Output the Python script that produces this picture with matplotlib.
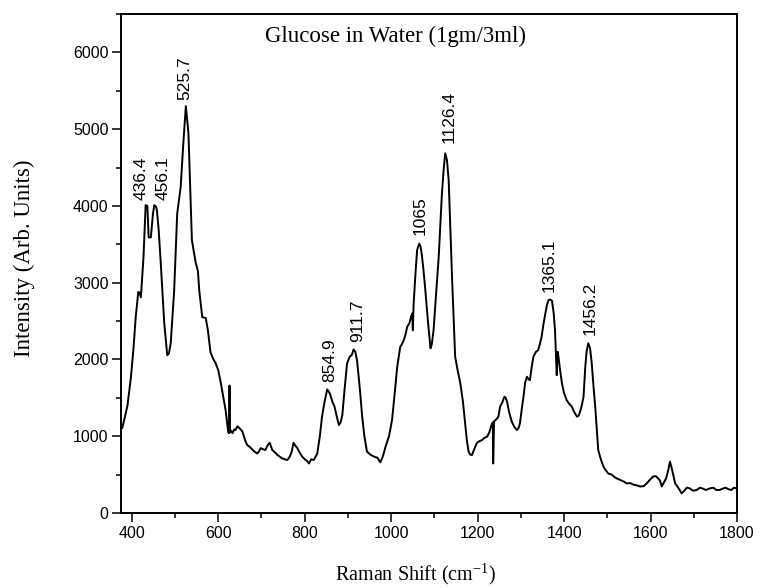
import matplotlib
matplotlib.use("Agg")
import matplotlib.pyplot as plt
import numpy as np
from matplotlib.ticker import MultipleLocator

# traced spectrum: Raman shift (cm-1) and intensity (arb. units)
shift = [378, 384, 390, 398, 404, 409, 415, 418, 421, 427, 432, 436, 439, 444, 449,
         452, 456, 458, 462, 467, 475, 482, 486, 490, 498, 505, 513, 519, 525, 531,
         539, 548, 553, 556, 563, 571, 576, 582, 588, 594, 600, 606, 612, 617, 621,
         623, 625, 626, 627, 630, 633, 637, 640, 644, 650, 656, 662, 667, 673, 680,
         686, 690, 694, 698, 704, 709, 714, 719, 725, 731, 737, 743, 748, 754, 760,
         766, 770, 774, 778, 783, 788, 794, 800, 805, 810, 815, 821, 829, 835, 840,
         846, 852, 858, 864, 869, 874, 879, 883, 887, 892, 898, 904, 909, 913, 917,
         921, 927, 933, 938, 944, 952, 960, 968, 975, 981, 987, 995, 1002, 1008, 1014,
         1021, 1025, 1029, 1033, 1037, 1042, 1046, 1049, 1050, 1052, 1056, 1060, 1065, 1068, 1071,
         1075, 1079, 1085, 1091, 1094, 1098, 1104, 1110, 1117, 1121, 1125, 1129, 1133, 1137, 1141,
         1148, 1154, 1160, 1166, 1171, 1175, 1179, 1183, 1187, 1192, 1198, 1204, 1210, 1216, 1222,
         1227, 1232, 1235, 1236, 1238, 1241, 1245, 1248, 1252, 1257, 1262, 1265, 1268, 1273, 1279,
         1285, 1291, 1295, 1298, 1302, 1306, 1310, 1314, 1318, 1321, 1325, 1329, 1335, 1340, 1344,
         1348, 1352, 1356, 1360, 1364, 1368, 1372, 1376, 1379, 1381, 1383, 1385, 1387, 1391, 1395,
         1400, 1406, 1412, 1418, 1422, 1425, 1430, 1434, 1437, 1441, 1445, 1449, 1452, 1456, 1460,
         1464, 1468, 1472, 1476, 1479, 1485, 1491, 1496, 1502, 1510, 1516, 1522, 1530, 1538, 1545,
         1553, 1560, 1568, 1576, 1584, 1591, 1598, 1606, 1612, 1618, 1622, 1626, 1631, 1636, 1641,
         1645, 1650, 1657, 1664, 1672, 1678, 1684, 1691, 1698, 1707, 1714, 1720, 1728, 1737, 1745,
         1752, 1760, 1768, 1774, 1780, 1787, 1793, 1799]
intensity = [1110, 1250, 1400, 1770, 2150, 2550, 2880, 2870, 2810, 3330, 4010, 4000, 3590, 3590, 3900,
             4010, 3990, 3945, 3700, 3255, 2475, 2055, 2080, 2210, 2900, 3900, 4245, 4800, 5300, 4950,
             3555, 3255, 3150, 2900, 2550, 2540, 2380, 2095, 2010, 1950, 1860, 1690, 1500, 1340, 1150,
             1055, 1040, 1660, 1050, 1070, 1040, 1090, 1080, 1130, 1100, 1060, 950, 885, 860, 820,
             790, 775, 800, 845, 830, 820, 880, 915, 820, 790, 755, 730, 710, 700, 690,
             740, 800, 915, 880, 845, 790, 735, 700, 680, 645, 700, 690, 775, 1000, 1255,
             1450, 1610, 1560, 1450, 1385, 1260, 1145, 1180, 1275, 1600, 1950, 2035, 2060, 2130, 2100,
             1990, 1650, 1255, 1000, 800, 760, 735, 720, 660, 740, 865, 1000, 1210, 1550, 1905,
             2165, 2200, 2250, 2320, 2425, 2470, 2555, 2600, 2380, 2730, 3100, 3425, 3510, 3470, 3360,
             3150, 2905, 2500, 2145, 2200, 2380, 2850, 3340, 4120, 4450, 4685, 4600, 4335, 3700, 3035,
             2035, 1850, 1690, 1450, 1170, 950, 800, 760, 755, 830, 910, 935, 950, 980, 995,
             1050, 1145, 1180, 645, 1190, 1210, 1230, 1255, 1385, 1440, 1515, 1500, 1450, 1310, 1190,
             1120, 1080, 1110, 1170, 1350, 1515, 1700, 1775, 1740, 1730, 1900, 2035, 2100, 2120, 2200,
             2295, 2450, 2580, 2700, 2775, 2780, 2765, 2600, 2380, 2100, 1795, 2100, 2035, 1850, 1690,
             1560, 1470, 1420, 1385, 1330, 1300, 1255, 1270, 1320, 1400, 1515, 1900, 2100, 2210, 2150,
             1950, 1650, 1385, 1050, 820, 700, 605, 560, 515, 500, 470, 450, 430, 410, 385,
             390, 370, 360, 345, 350, 385, 430, 475, 480, 450, 420, 345, 400, 450, 560,
             670, 560, 385, 330, 255, 290, 330, 320, 290, 300, 330, 320, 300, 320, 330,
             300, 300, 320, 330, 310, 300, 330, 320]

peak_labels = ["436.4", "456.1", "525.7", "854.9", "911.7", "1065", "1126.4", "1365.1", "1456.2"]
label_x = [421, 472, 522, 857, 922, 1068, 1133, 1366, 1460]
label_y = [4075, 4075, 5377, 1706, 2226, 3620, 4817, 2877, 2318]

plt.rcParams['font.family'] = ['Liberation Sans', 'DejaVu Sans']
plt.rcParams['mathtext.fontset'] = 'stix'

fig = plt.figure(figsize=(7.6, 5.88), dpi=100)
ax = fig.add_axes([121 / 760, 75 / 588, 616 / 760, 499 / 588])

ax.plot(shift, intensity, color='black', lw=1.4)

for txt, lx, ly in zip(peak_labels, label_x, label_y):
    ax.text(lx, ly, txt, rotation=90, ha='center', va='bottom', fontsize=12.5)

ax.text(0.445, 0.955, "Glucose in Water (1gm/3ml)", transform=ax.transAxes,
        ha='center', va='center', fontsize=16.5, family='Liberation Serif')

ax.set_xlim(375, 1800)
ax.set_ylim(0, 6500)
ax.xaxis.set_major_locator(MultipleLocator(200))
ax.xaxis.set_minor_locator(MultipleLocator(100))
ax.yaxis.set_major_locator(MultipleLocator(1000))
ax.yaxis.set_minor_locator(MultipleLocator(500))
ax.tick_params(which='major', direction='out', length=6.5, width=1.1, labelsize=11.5, pad=2.5)
ax.tick_params(which='minor', direction='out', length=3.3, width=1.1)
ax.tick_params(top=False, right=False, which='both')

for s in ax.spines.values():
    s.set_linewidth(1.4)

ax.set_ylabel("Intensity (Arb. Units)", family='Liberation Serif', fontsize=16.5)
ax.set_xlabel(r"Raman Shift (cm$^{\mathregular{-1}}$)", family='Liberation Serif', fontsize=14.5)
ax.yaxis.set_label_coords(-0.14, 0.511)
ax.xaxis.set_label_coords(0.479, -0.097)

fig.savefig("out.png", dpi=100)
